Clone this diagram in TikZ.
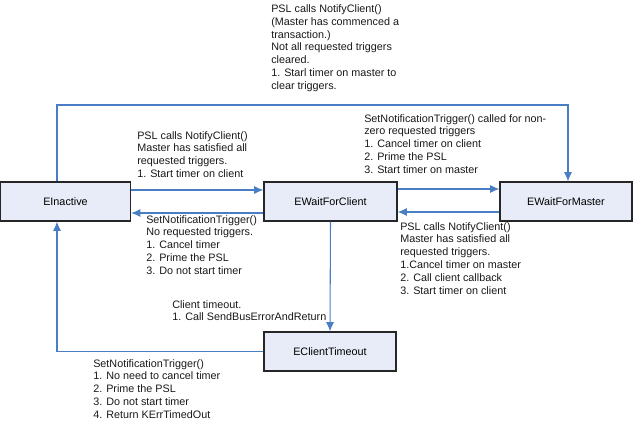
\documentclass[tikz,border=0pt]{standalone}
\usepackage{fontspec}
\setmainfont{Liberation Sans}
\usetikzlibrary{calc,arrows.meta}
\definecolor{lineblue}{RGB}{74,126,196}
\definecolor{boxfill}{RGB}{232,236,248}
\tikzset{
  state/.style={draw=black!85, fill=boxfill, line width=0.8pt, minimum height=29.25pt, inner sep=0pt, font=\fontsize{8.1}{9.6}\selectfont},
  trans/.style={draw=lineblue, line width=0.8pt, -{Latex[length=7pt,width=6pt]}},
  note/.style={anchor=north west, align=left, inner sep=0pt, text=black!90, font=\fontsize{8.1}{9.6}\selectfont}
}

\begin{document}
\begin{tikzpicture}[x=0.75pt, y=-0.75pt]
			%%%%% START %%%%%
			\useasboundingbox (0, 0) rectangle (633, 422);
			
			\node[state, minimum width=97.5pt] (inactive) at (65.5, 201.5) {EInactive};
			\node[state, minimum width=99.75pt] (waitclient) at (330.5, 201.5) {EWaitForClient};
			\node[state, minimum width=99pt] (waitmaster) at (566, 201.5) {EWaitForMaster};
			\node[state, minimum width=99pt] (timeout) at (330, 351.5) {EClientTimeout};
			
			\coordinate (topleft) at (57, 105);
			\coordinate (topright) at (568, 105);
			\coordinate (botleft) at (57, 351.5);
			
			\draw[trans] (inactive.north -| topleft) -- (topleft) -- (topright) -- (topright |- waitmaster.north);
			
			\draw[trans] ($(inactive.east)+(0,-11.5)$) -- ($(waitclient.west)+(0,-11.5)$);
			\draw[trans] ($(waitclient.west)+(0,11.5)$) -- ($(inactive.east)+(0,11.5)$);
			\draw[trans] ($(waitclient.east)+(0,-12.5)$) -- ($(waitmaster.west)+(0,-12.5)$);
			\draw[trans] ($(waitmaster.west)+(0,10.5)$) -- ($(waitclient.east)+(0,10.5)$);
			
			\draw[trans] (waitclient.south) -- (timeout.north);
			\draw[trans] (timeout.west) -- (botleft) -- (inactive.south -| botleft);
			
			\node[note] (lbltop) at (271, 4.5) {PSL calls NotifyClient()\\(Master has commenced a\\transaction.)\\Not all requested triggers\\cleared.\\1. Starl timer on master to\\clear triggers.};
			\node[note] (lblstart) at (137, 131) {PSL calls NotifyClient()\\Master has satisfied all\\requested triggers.\\1. Start timer on client};
			\node[note] (lblcancel) at (146, 215) {SetNotificationTrigger()\\No requested triggers.\\1. Cancel timer\\2. Prime the PSL\\3. Do not start timer};
			\node[note] (lblnonzero) at (364, 114) {SetNotificationTrigger() called for non-\\zero requested triggers\\1. Cancel timer on client\\2. Prime the PSL\\3. Start timer on master};
			\node[note] (lblsatisfied) at (400, 222) {PSL calls NotifyClient()\\Master has satisfied all\\requested triggers.\\1.Cancel timer on master\\2. Call client callback\\3. Start timer on client};
			\node[note] (lbltimeout) at (172, 300) {Client timeout.\\1. Call SendBusErrorAndReturn};
			\node[note] (lblreturn) at (93, 359) {SetNotificationTrigger()\\1. No need to cancel timer\\2. Prime the PSL\\3. Do not start timer\\4. Return KErrTimedOut};
			
			%%%%% END %%%%%
\end{tikzpicture}
\end{document}
